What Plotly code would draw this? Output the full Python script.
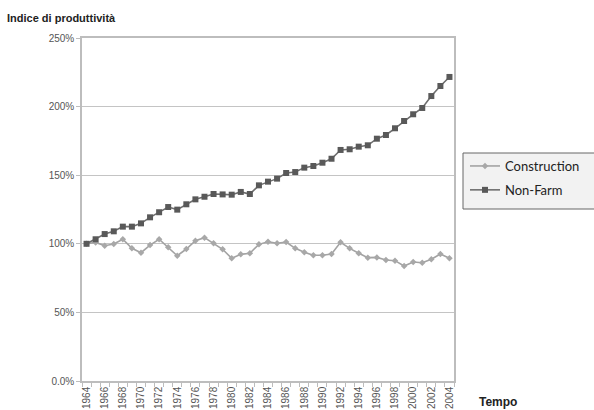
import plotly.graph_objects as go

# Productivity index, 1964 = 100%
years = list(range(1964, 2005))

construction = [
    100.0, 101.0, 98.6, 99.9, 103.3, 96.7, 93.5, 99.1, 103.3, 97.4,
    91.3, 96.2, 102.3, 104.5, 100.4, 96.0, 89.4, 92.3, 93.1, 99.6,
    101.5, 100.4, 101.3, 96.7, 93.8, 91.6, 91.6, 92.6, 101.1, 96.7,
    93.1, 89.9, 90.1, 88.2, 87.7, 83.8, 86.7, 86.2, 88.7, 92.6, 89.4,
]

non_farm = [
    100.0, 103.3, 107.1, 109.1, 112.5, 112.5, 114.9, 119.3, 123.0, 126.8,
    124.9, 128.8, 132.4, 134.3, 136.3, 136.0, 135.8, 137.8, 136.3, 142.6,
    145.3, 147.5, 151.6, 152.3, 155.5, 156.7, 159.1, 162.0, 168.4, 168.9,
    170.8, 171.8, 176.6, 179.3, 184.2, 189.5, 194.4, 199.0, 207.7, 215.0,
    221.6,
]

y_ticks = [0, 50, 100, 150, 200, 250]
y_tick_labels = ["0.0%", "50%", "100%", "150%", "200%", "250%"]
x_tick_years = years[::2]

# plot area in pixels (for placing the legend frame and axis title)
PX_L, PX_R, PX_T, PX_B = 82, 454, 38, 381


def px_x(px):
    return (px - PX_L) / (PX_R - PX_L)


def px_y(py):
    return (PX_B - py) / (PX_B - PX_T)


fig = go.Figure()

fig.add_trace(go.Scatter(
    x=years, y=construction, name="Construction",
    legendgroup="c",
    mode="lines+markers",
    line=dict(color="#a3a3a3", width=1.6),
    marker=dict(symbol="diamond", size=5, color="#a8a8a8"),
))

fig.add_trace(go.Scatter(
    x=years, y=non_farm, name="Non-Farm",
    legendgroup="n",
    mode="lines+markers",
    line=dict(color="#6e6e6e", width=1.6),
    marker=dict(symbol="square", size=6, color="#595959"),
))

# legend frame, running off the right edge of the page
fig.add_shape(
    type="rect", xref="paper", yref="paper",
    x0=px_x(463), x1=px_x(610), y0=px_y(209), y1=px_y(153),
    fillcolor="#f2f2f2", line=dict(color="#666666", width=1),
    layer="below",
)

fig.update_layout(
    width=594, height=410,
    margin=dict(l=PX_L, r=594 - PX_R, t=PX_T, b=410 - PX_B, autoexpand=False),
    paper_bgcolor="white",
    plot_bgcolor="white",
    title=dict(
        text="<b>Indice di produttività</b>",
        x=7 / 594, xanchor="left", xref="container",
        y=1 - 18 / 410, yanchor="middle", yref="container",
        font=dict(family="Liberation Sans, Arial", size=11, color="#222222"),
    ),
    legend=dict(
        x=px_x(465), xanchor="left", y=px_y(151), yanchor="top",
        bgcolor="rgba(0,0,0,0)", borderwidth=0,
        font=dict(family="Lato", size=13, color="#222222"),
        itemwidth=30,
        traceorder="grouped",
        tracegroupgap=4,
    ),
    showlegend=True,
    xaxis=dict(
        range=[1963.5, 2004.5],
        automargin=False,
        tickmode="array", tickvals=x_tick_years,
        ticktext=[str(y) for y in x_tick_years],
        tickangle=-90,
        ticks="", ticklen=0,
        tickfont=dict(family="Liberation Sans, Arial", size=10, color="#555555"),
        showgrid=False, zeroline=False,
        showline=True, linecolor="#bdbdbd", linewidth=1.5, mirror=True,
        minor=dict(ticks="outside", tick0=1963.5, dtick=1, ticklen=4,
                   tickcolor="#bdbdbd", tickwidth=1, showgrid=False),
    ),
    yaxis=dict(
        range=[0, 250],
        automargin=False,
        tickmode="array", tickvals=y_ticks, ticktext=y_tick_labels,
        ticks="outside", ticklen=4, tickcolor="#bdbdbd",
        tickfont=dict(family="Liberation Sans, Arial", size=10, color="#555555"),
        showgrid=True, gridcolor="#c4c4c4", gridwidth=1.2,
        zeroline=False,
        showline=True, linecolor="#bdbdbd", linewidth=1.5, mirror=True,
    ),
)

fig.add_annotation(
    text="<b>Tempo</b>", xref="paper", yref="paper",
    x=px_x(477), y=px_y(402),
    xanchor="left", yanchor="middle", showarrow=False,
    font=dict(family="Liberation Sans, Arial", size=12, color="#222222"),
)

fig.write_html("out.html")
